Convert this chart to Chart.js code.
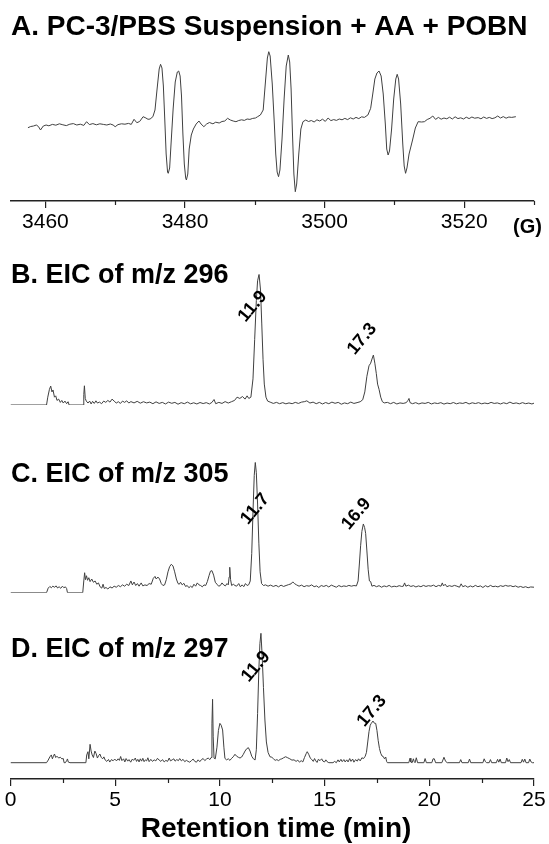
<!DOCTYPE html>
<html>
<head>
<meta charset="utf-8">
<script src="https://cdn.jsdelivr.net/npm/chart.js@4.4.0/dist/chart.umd.min.js"></script>
<style>
body { margin: 0; background: #fff; }
#wrap { position: relative; width: 549px; height: 844px; overflow: hidden; }
#wrap canvas { position: absolute; left: 0; }
</style>
</head>
<body>
<div id="wrap">
    <canvas id="epr-chart" width="549" height="250" style="top:0px"></canvas>
    <canvas id="eic-296-chart" width="549" height="180" style="top:240px"></canvas>
    <canvas id="eic-305-chart" width="549" height="190" style="top:420px"></canvas>
    <canvas id="eic-297-chart" width="549" height="244" style="top:600px"></canvas>
</div>
<script>
var FONT = '"Liberation Sans", Arial, sans-serif';

// EPR spectrum, field (G) and signal (a.u.)
var eprSpectrum = [
    [3457.5,-3.7],[3457.9,-2.5],[3458.3,-2.0],[3458.7,-1.0],[3459.0,-2.5],[3459.3,-6.0],[3459.7,-2.0],
    [3460.1,-1.0],[3460.5,-1.8],[3461.0,-0.4],[3461.5,-1.2],[3462.0,0.2],[3462.5,-0.8],[3463.0,-1.6],
    [3463.5,-0.2],[3464.0,0.4],[3464.5,-1.0],[3465.0,-0.2],[3465.5,-1.4],[3465.9,2.3],[3466.3,-0.6],
    [3466.8,0.4],[3467.3,-0.8],[3467.8,0.2],[3468.3,-0.4],[3468.8,-1.0],[3469.3,0.0],[3469.7,-1.0],
    [3470.0,-2.7],[3470.4,-0.6],[3470.9,0.2],[3471.4,-0.2],[3471.9,0.6],[3472.3,-0.4],[3472.7,4.7],
    [3473.1,1.3],[3473.5,2.5],[3474.0,7.3],[3474.4,6.0],[3474.7,4.7],[3475.0,5.0],[3475.4,7.3],
    [3475.7,14],[3476.0,35],[3476.3,55],[3476.5,59.7],[3476.7,56],[3476.9,38],[3477.1,5],[3477.3,-30],
    [3477.5,-48],[3477.6,-49.3],[3477.8,-44],[3478.0,-20],[3478.3,15],[3478.6,42],[3478.9,52],[3479.1,53],
    [3479.3,48],[3479.5,28],[3479.7,-10],[3479.9,-40],[3480.1,-54],[3480.2,-56],[3480.4,-50],[3480.6,-25],
    [3480.9,-11],[3481.2,-5],[3481.6,0],[3482.0,3],[3482.3,0],[3482.7,-2.7],[3483.1,0],[3483.5,1.5],
    [3484.0,0.2],[3484.4,1.8],[3484.9,1.0],[3485.3,2.5],[3485.7,3.0],[3486.1,5.7],[3486.5,4.0],
    [3486.9,3.0],[3487.3,2.3],[3487.7,3.5],[3488.1,4.2],[3488.5,3.6],[3488.9,5.0],[3489.3,4.6],
    [3489.7,5.6],[3490.1,6.0],[3490.4,7.3],[3490.8,9],[3491.2,14],[3491.5,40],[3491.8,66],[3492.0,72.3],
    [3492.2,68],[3492.5,40],[3492.8,0],[3493.0,-30],[3493.2,-48],[3493.4,-52.7],[3493.6,-46],[3493.9,-15],
    [3494.2,25],[3494.5,58],[3494.8,69],[3495.0,62],[3495.2,35],[3495.4,-10],[3495.6,-50],[3495.8,-67.7],
    [3496.0,-60],[3496.3,-30],[3496.6,-5],[3496.9,2.3],[3497.3,4.0],[3497.7,2.5],[3498.1,3.5],[3498.5,2.0],
    [3498.9,4.2],[3499.3,3.0],[3499.7,4.8],[3500.1,2.6],[3500.5,6.0],[3500.9,3.4],[3501.3,4.4],[3501.7,3.6],
    [3502.1,5.0],[3502.5,4.2],[3502.9,5.6],[3503.3,4.4],[3503.7,6.2],[3504.1,5.0],[3504.5,6.6],[3504.9,5.4],
    [3505.3,7.2],[3505.7,6.6],[3506.2,9.0],[3506.6,15.7],[3506.9,30],[3507.2,45],[3507.5,51],[3507.8,53],
    [3508.1,48],[3508.4,30],[3508.7,0],[3508.9,-25],[3509.1,-31],[3509.3,-27],[3509.6,-5],[3509.9,25],
    [3510.2,45],[3510.4,49.7],[3510.6,45],[3510.9,20],[3511.2,-20],[3511.4,-42],[3511.6,-49.3],[3511.8,-44],
    [3512.1,-30],[3512.6,-16],[3513.0,-4],[3513.4,2.3],[3513.9,2.0],[3514.3,2.3],[3514.7,4.5],[3515.1,5.7],
    [3515.5,8.0],[3515.9,4.6],[3516.3,6.6],[3516.7,4.8],[3517.1,6.0],[3517.5,5.2],[3517.9,6.8],[3518.3,5.0],
    [3518.7,7.2],[3519.1,5.4],[3519.5,6.2],[3519.9,5.0],[3520.3,6.8],[3520.7,5.4],[3521.1,7.0],[3521.5,5.8],
    [3522.0,6.4],[3522.4,5.2],[3522.8,7.0],[3523.2,5.6],[3523.6,6.6],[3524.0,5.4],[3524.4,6.2],[3524.8,8.0],
    [3525.2,6.0],[3525.6,7.4],[3526.0,5.8],[3526.4,7.0],[3526.8,6.6],[3527.4,7.3]
];
var eprMajorTicks = [3460, 3480, 3500, 3520];
var eprMinorTicks = [3470, 3490, 3510, 3530];

// EIC traces, retention time (min) and relative intensity (%)
var eic296 = [
    [0,0],[1.72,0],[1.78,6],[1.86,12],[1.92,14.5],[1.98,10],[2.03,11.5],[2.10,6],[2.16,7],[2.22,3.5],
    [2.30,4.5],[2.38,2],[2.45,3.5],[2.52,1.5],[2.60,3],[2.68,1],[2.75,2.5],[2.80,0],[3.47,0],[3.50,8],
    [3.53,14.7],[3.57,5],[3.62,3],[3.70,1.5],[3.78,3],[3.85,0.8],[3.92,2.8],[4.00,1.2],[4.08,3.2],[4.15,1.5],
    [4.25,2.2],[4.35,1.0],[4.45,3.0],[4.55,2.0],[4.65,3.5],[4.75,2.2],[4.85,4.5],[4.95,3.0],[5.05,1.5],
    [5.15,2.5],[5.25,1.2],[5.35,3.0],[5.45,2.0],[5.55,3.2],[5.65,1.5],[5.75,2.6],[5.90,1.6],[6.05,2.8],
    [6.20,1.4],[6.35,2.5],[6.50,1.6],[6.65,2.2],[6.80,1.0],[6.95,2.4],[7.10,1.2],[7.25,2.0],[7.40,0.8],
    [7.55,2.2],[7.70,1.3],[7.85,2.0],[8.00,0.6],[8.15,1.8],[8.30,1.0],[8.45,2.2],[8.60,0.9],[8.75,1.7],
    [8.90,0.8],[9.05,1.9],[9.20,1.1],[9.35,1.8],[9.50,0.8],[9.62,2.0],[9.72,4.2],[9.80,1.0],[9.95,2.0],
    [10.10,1.2],[10.25,2.6],[10.40,1.5],[10.55,2.5],[10.70,3.5],[10.82,6.0],[10.95,5.0],[11.08,6.5],
    [11.20,4.5],[11.30,7.0],[11.38,5.0],[11.48,6.0],[11.58,20],[11.66,50],[11.74,80],[11.80,95],[11.87,100],
    [11.94,88],[12.00,62],[12.06,35],[12.12,16],[12.20,6],[12.28,3],[12.40,2.2],[12.55,1.2],[12.70,2.0],
    [12.85,1.0],[13.00,1.8],[13.15,0.9],[13.30,1.6],[13.45,1.0],[13.60,2.0],[13.75,1.2],[13.90,2.2],
    [14.05,2.6],[14.15,3.2],[14.30,1.5],[14.45,2.2],[14.60,1.0],[14.75,2.0],[14.90,0.8],[15.05,1.9],
    [15.20,1.0],[15.35,2.2],[15.50,1.3],[15.65,2.0],[15.80,0.6],[15.95,1.6],[16.10,1.0],[16.25,2.2],
    [16.40,1.2],[16.55,1.8],[16.70,2.5],[16.82,4.0],[16.92,10],[17.02,22],[17.12,30],[17.20,32],[17.28,36],
    [17.33,38.2],[17.40,32],[17.47,24],[17.53,16],[17.60,12],[17.68,6],[17.76,2.5],[17.85,1.6],[18.00,2.0],
    [18.15,1.0],[18.30,2.0],[18.45,0.8],[18.60,1.6],[18.75,1.2],[18.90,1.8],[18.98,3.5],[19.03,5.0],
    [19.08,1.8],[19.20,1.0],[19.35,1.8],[19.50,0.8],[19.65,1.6],[19.80,1.2],[19.95,2.0],[20.10,0.8],
    [20.25,1.6],[20.40,1.1],[20.55,1.8],[20.70,0.7],[20.85,1.5],[21.00,1.0],[21.15,1.9],[21.30,0.9],
    [21.45,1.6],[21.60,1.2],[21.75,2.0],[21.90,0.8],[22.05,1.7],[22.20,1.1],[22.35,1.8],[22.50,0.9],
    [22.65,1.5],[22.80,1.0],[22.95,2.0],[23.10,1.2],[23.25,1.6],[23.40,0.8],[23.55,1.7],[23.70,1.0],
    [23.85,2.2],[24.00,1.1],[24.15,1.6],[24.30,0.9],[24.45,1.8],[24.60,1.0],[24.75,1.5],[24.90,0.8],[25.00,1.4]
];
var eic305 = [
    [0,0],[1.72,0],[1.80,3.5],[1.88,4.8],[1.95,3.8],[2.02,5.0],[2.10,4.2],[2.18,5.2],[2.25,3.6],[2.32,4.6],
    [2.40,3.4],[2.48,5.0],[2.55,3.8],[2.62,4.5],[2.68,3.2],[2.72,0],[3.45,0],[3.50,9],[3.54,15.3],[3.58,10],
    [3.63,13],[3.68,9.5],[3.74,11.5],[3.80,8.5],[3.88,10.5],[3.96,8.0],[4.04,9.0],[4.12,6.5],[4.20,7.5],
    [4.28,4.5],[4.36,3.5],[4.42,6.5],[4.48,3.2],[4.56,4.0],[4.65,2.8],[4.75,4.5],[4.85,3.6],[4.95,5.0],
    [5.05,4.2],[5.15,5.5],[5.25,4.6],[5.35,6.0],[5.45,5.0],[5.55,6.5],[5.65,5.5],[5.75,9.0],[5.82,6.0],
    [5.90,8.2],[5.98,5.5],[6.06,7.0],[6.14,5.0],[6.24,7.5],[6.32,5.2],[6.42,6.0],[6.52,5.5],[6.62,7.0],
    [6.72,6.5],[6.82,11.0],[6.90,12.5],[6.96,10.5],[7.04,12.0],[7.12,10.5],[7.20,7.0],[7.28,5.5],[7.36,6.0],
    [7.44,10.0],[7.52,16.0],[7.60,20.0],[7.68,21.8],[7.76,20.5],[7.84,16.0],[7.92,10.5],[8.00,7.0],
    [8.06,6.5],[8.12,8.0],[8.20,6.0],[8.28,7.2],[8.36,4.8],[8.44,5.5],[8.52,3.8],[8.60,5.0],[8.68,4.0],
    [8.76,6.5],[8.84,5.0],[8.92,7.5],[9.00,6.0],[9.08,5.5],[9.16,4.5],[9.24,6.0],[9.32,5.5],[9.40,8.5],
    [9.48,13.0],[9.55,16.5],[9.62,16.9],[9.70,13.5],[9.78,8.0],[9.86,6.5],[9.94,5.0],[10.02,5.5],[10.10,7.5],
    [10.18,6.0],[10.26,5.2],[10.34,7.0],[10.40,6.0],[10.44,12],[10.47,19.5],[10.51,10],[10.56,5.5],
    [10.64,6.5],[10.72,5.5],[10.80,5.0],[10.90,7.0],[10.98,4.5],[11.06,6.0],[11.14,4.6],[11.22,7.0],
    [11.30,5.5],[11.38,6.2],[11.45,9.0],[11.52,30],[11.58,62],[11.64,90],[11.69,100],[11.74,92],[11.80,68],
    [11.86,38],[11.92,16],[11.99,7.0],[12.08,5.5],[12.18,6.0],[12.30,5.0],[12.42,5.8],[12.55,4.8],
    [12.68,5.6],[12.80,4.5],[12.92,5.8],[13.04,4.8],[13.16,5.5],[13.28,6.2],[13.40,6.8],[13.48,8.3],
    [13.56,7.0],[13.66,6.0],[13.78,5.0],[13.90,5.8],[14.02,4.6],[14.14,5.4],[14.26,5.0],[14.38,6.0],
    [14.50,4.6],[14.62,5.2],[14.72,4.0],[14.84,5.5],[14.96,4.8],[15.08,5.6],[15.20,4.4],[15.32,5.8],
    [15.44,5.0],[15.56,4.2],[15.68,5.5],[15.80,4.6],[15.92,5.2],[16.04,4.8],[16.16,5.6],[16.28,5.0],
    [16.40,5.5],[16.52,5.2],[16.60,9.0],[16.66,22],[16.72,36],[16.78,47],[16.85,52.7],[16.91,50],
    [16.96,45.5],[17.02,32],[17.08,18],[17.14,9.0],[17.20,8.5],[17.26,5.0],[17.36,5.6],[17.48,4.6],
    [17.60,5.4],[17.72,4.2],[17.84,5.2],[17.96,4.6],[18.08,5.6],[18.20,4.4],[18.32,5.0],[18.44,4.6],
    [18.56,5.4],[18.68,4.8],[18.76,5.0],[18.82,7.5],[18.88,5.0],[19.00,5.8],[19.12,4.8],[19.24,5.4],
    [19.36,4.4],[19.48,5.2],[19.60,4.6],[19.72,5.6],[19.84,4.8],[19.96,5.4],[20.08,5.0],[20.20,5.8],
    [20.32,4.6],[20.44,5.6],[20.56,5.0],[20.62,7.5],[20.68,5.2],[20.76,6.5],[20.84,4.6],[20.96,5.4],
    [21.08,4.8],[21.20,5.6],[21.32,5.0],[21.44,4.2],[21.52,6.8],[21.60,4.6],[21.72,5.4],[21.84,4.2],
    [21.96,5.2],[22.08,4.4],[22.20,5.6],[22.32,4.6],[22.44,5.2],[22.56,4.0],[22.68,5.4],[22.80,4.4],
    [22.92,5.6],[23.04,4.6],[23.16,5.0],[23.28,4.4],[23.40,5.4],[23.52,4.8],[23.64,5.6],[23.76,5.0],
    [23.88,5.4],[24.00,4.6],[24.12,5.2],[24.24,4.2],[24.36,4.8],[24.48,4.0],[24.60,4.6],[24.72,3.8],
    [24.84,4.4],[25.00,4.2]
];
var eic297 = [
    [0,0],[1.72,0],[1.80,2.0],[1.88,4.5],[1.95,6.0],[2.00,3.0],[2.05,5.0],[2.10,6.7],[2.16,4.0],[2.22,5.0],
    [2.30,3.6],[2.38,4.2],[2.45,3.0],[2.52,3.2],[2.56,0],[2.62,0],[2.68,1.5],[2.72,2.9],[2.76,0.5],[2.84,0],
    [3.60,0],[3.64,6.0],[3.70,8.5],[3.74,3.0],[3.80,14.2],[3.85,9.0],[3.90,6.0],[3.96,4.0],[4.03,9.0],
    [4.09,7.0],[4.15,3.6],[4.21,5.5],[4.27,6.7],[4.33,4.2],[4.40,3.0],[4.46,4.5],[4.52,2.1],[4.60,1.0],
    [4.68,2.5],[4.74,0.5],[4.82,2.4],[4.90,1.5],[4.98,2.8],[5.06,1.4],[5.14,3.0],[5.20,1.8],[5.26,4.8],
    [5.32,1.6],[5.40,3.0],[5.46,0.6],[5.52,3.2],[5.60,1.2],[5.66,2.4],[5.74,0.4],[5.82,2.8],[5.88,1.8],
    [5.96,3.6],[6.02,1.0],[6.08,2.6],[6.14,0.6],[6.20,3.0],[6.26,1.2],[6.32,3.4],[6.38,0.8],[6.44,2.2],
    [6.50,1.4],[6.56,3.8],[6.62,0.8],[6.70,2.6],[6.78,1.0],[6.86,2.2],[6.94,1.4],[7.02,3.4],[7.10,2.0],
    [7.18,1.0],[7.26,2.4],[7.34,0.6],[7.42,1.8],[7.50,1.0],[7.58,3.6],[7.64,1.4],[7.72,2.2],[7.80,3.0],
    [7.86,1.2],[7.94,2.4],[8.02,1.6],[8.08,3.2],[8.16,1.4],[8.24,2.6],[8.32,0.8],[8.40,1.8],[8.48,1.0],
    [8.56,0.4],[8.64,1.6],[8.72,2.8],[8.80,1.0],[8.88,0.4],[8.96,2.2],[9.04,0.8],[9.12,2.4],[9.20,3.2],
    [9.28,1.6],[9.36,2.8],[9.44,3.6],[9.52,2.4],[9.58,4.0],[9.62,30],[9.65,49],[9.68,20],[9.72,3.5],
    [9.78,3.0],[9.86,12],[9.93,25],[10.00,30.4],[10.06,29],[10.13,25.3],[10.19,12],[10.24,3.3],[10.32,2.2],
    [10.40,3.0],[10.48,1.8],[10.56,3.4],[10.64,4.6],[10.72,6.5],[10.80,5.0],[10.88,4.2],[10.96,3.6],
    [11.04,4.4],[11.12,6.5],[11.20,9.0],[11.28,10.8],[11.36,11.6],[11.44,9.0],[11.52,5.0],[11.60,3.0],
    [11.68,2.1],[11.74,10],[11.80,38],[11.86,72],[11.91,92],[11.96,100],[12.02,82],[12.08,58],[12.15,33],
    [12.22,16],[12.30,8.0],[12.39,4.6],[12.48,4.2],[12.56,3.0],[12.64,1.8],[12.72,2.4],[12.80,1.6],
    [12.88,2.6],[12.96,3.0],[13.04,3.8],[13.14,4.6],[13.24,3.8],[13.34,3.0],[13.44,2.0],[13.54,2.2],
    [13.64,1.0],[13.72,2.0],[13.80,0.4],[13.88,1.6],[13.96,0.6],[14.04,4.0],[14.12,7.0],[14.17,8.5],
    [14.24,6.5],[14.32,3.5],[14.40,2.2],[14.46,1.0],[14.52,3.2],[14.58,1.4],[14.64,0.2],[14.70,2.6],
    [14.78,1.6],[14.86,3.0],[14.92,1.2],[15.00,0.6],[15.06,2.2],[15.12,0.8],[15.20,0],[15.40,0],[15.48,1.0],
    [15.56,0],[15.64,2.2],[15.70,0.6],[15.78,2.6],[15.84,0.8],[15.92,2.4],[15.98,0.6],[16.06,2.2],[16.12,0.6],
    [16.20,3.2],[16.26,1.0],[16.34,2.8],[16.40,0.4],[16.48,2.4],[16.56,1.2],[16.62,3.0],[16.70,1.4],
    [16.78,3.8],[16.86,3.2],[16.94,5.0],[17.00,8.0],[17.06,16],[17.12,24],[17.18,29],[17.23,30.4],
    [17.31,32.2],[17.38,30.5],[17.44,30.4],[17.50,25],[17.56,17],[17.62,11],[17.68,7.3],[17.74,5.2],
    [17.80,4.8],[17.86,3.0],[17.92,4.4],[17.96,1.0],[18.00,0],[19.02,0],[19.08,3.5],[19.12,0.5],[19.18,0],
    [19.24,3.0],[19.28,0.8],[19.32,0],[19.38,3.8],[19.44,0],[19.74,0],[19.80,3.2],[19.86,0],[20.12,0],
    [20.18,3.0],[20.24,3.0],[20.30,0],[20.60,0],[20.70,4.2],[20.78,1.0],[20.86,0],[21.44,0],[21.50,2.4],
    [21.56,0],[21.86,0],[21.92,2.8],[21.98,0],[22.56,0],[22.62,3.0],[22.68,0.8],[22.74,0],[22.86,0],
    [22.92,2.4],[22.98,0],[23.20,0],[23.26,2.6],[23.32,0.4],[23.38,2.8],[23.44,0],[23.64,0],[23.70,3.6],
    [23.76,0.8],[23.82,2.4],[23.88,0],[24.38,0],[24.44,2.6],[24.50,0.4],[24.56,2.8],[24.62,0],[24.74,0],
    [24.80,2.8],[24.86,0.6],[24.92,0],[25.00,0]
];
var timeMajorTicks = [0, 5, 10, 15, 20, 25];
var timeMinorTicks = [2.5, 7.5, 12.5, 17.5, 22.5];

// peak labels: text, time, intensity of the label centre
var peaks296 = [['11.9', 11.56, 75.4], ['17.3', 16.79, 50.5]];
var peaks305 = [['11.7', 11.68, 64.2], ['16.9', 16.52, 60.4]];
var peaks297 = [['11.9', 11.72, 74.3], ['17.3', 17.26, 40.0]];

var panel_text_plugin = {
    id: 'panelText',
    afterDraw: function (chart, args, opts) {
        var ctx = chart.ctx;
        var xs = chart.scales.x;
        var ys = chart.scales.y;
        ctx.save();
        ctx.fillStyle = '#000';
        (opts.texts || []).forEach(function (t) {
            ctx.font = t.font;
            ctx.textAlign = t.align || 'left';
            ctx.textBaseline = 'alphabetic';
            ctx.fillText(t.text, t.x, t.y);
        });
        (opts.peaks || []).forEach(function (p) {
            ctx.save();
            ctx.translate(xs.getPixelForValue(p[1]), ys.getPixelForValue(p[2]));
            ctx.rotate(-50 * Math.PI / 180);
            ctx.font = 'bold 18px ' + FONT;
            ctx.textAlign = 'center';
            ctx.textBaseline = 'middle';
            ctx.fillText(p[0], 0, 0);
            ctx.restore();
        });
        if (opts.minorTicks) {
            var bottom = chart.chartArea.bottom;
            ctx.strokeStyle = '#222';
            ctx.lineWidth = 1.2;
            opts.minorTicks.forEach(function (v) {
                var px = Math.round(xs.getPixelForValue(v)) + 0.5;
                ctx.beginPath();
                ctx.moveTo(px, bottom);
                ctx.lineTo(px, bottom + 4);
                ctx.stroke();
            });
        }
        ctx.restore();
    }
};

function to_points(pairs) {
    return pairs.map(function (p) { return {x: p[0], y: p[1]}; });
}

function make_chart(id, pairs, cfg) {
    var ctx = document.getElementById(id).getContext('2d');
    var xScale = {
        type: 'linear',
        min: cfg.xMin,
        max: cfg.xMax,
        display: cfg.showAxis
    };
    if (cfg.showAxis) {
        xScale.afterBuildTicks = function (scale) {
            scale.ticks = cfg.majorTicks.map(function (v) { return {value: v}; });
        };
        xScale.afterFit = function (scale) {
            scale.height = cfg.axisHeight;
        };
        xScale.ticks = {
            callback: function (v) { return String(v); },
            font: {family: FONT, size: 21},
            color: '#000',
            padding: 2,
            maxRotation: 0,
            autoSkip: false
        };
        xScale.grid = {
            drawOnChartArea: false,
            drawTicks: true,
            tickLength: 7,
            color: '#222',
            lineWidth: 1.2
        };
        xScale.border = {display: true, color: '#222', width: 1.5};
    }
    return new Chart(ctx, {
        type: 'line',
        data: {
            datasets: [{
                data: to_points(pairs),
                borderColor: '#404040',
                borderWidth: 1,
                pointRadius: 0,
                tension: 0,
                fill: false
            }]
        },
        options: {
            responsive: false,
            animation: false,
            layout: {
                padding: {left: 10.5, right: 15, top: cfg.padTop, bottom: cfg.padBottom}
            },
            scales: {
                x: xScale,
                y: {type: 'linear', min: cfg.yMin, max: cfg.yMax, display: false}
            },
            plugins: {
                legend: {display: false},
                tooltip: {enabled: false},
                panelText: {
                    texts: cfg.texts,
                    peaks: cfg.peaks,
                    minorTicks: cfg.minorTicks
                }
            }
        },
        plugins: [panel_text_plugin]
    });
}

var epr_chart = make_chart('epr-chart', eprSpectrum, {
    xMin: 3455, xMax: 3530, yMin: -77, yMax: 84,
    padTop: 40, padBottom: 0, showAxis: true, axisHeight: 49,
    majorTicks: eprMajorTicks, minorTicks: eprMinorTicks,
    texts: [
        {text: 'A. PC-3/PBS Suspension + AA + POBN', x: 11, y: 35, font: 'bold 28px ' + FONT},
        {text: '(G)', x: 513, y: 233, font: 'bold 20px ' + FONT}
    ]
});

var eic_296_chart = make_chart('eic-296-chart', eic296, {
    xMin: 0, xMax: 25, yMin: 0, yMax: 100,
    padTop: 34.3, padBottom: 15, showAxis: false,
    peaks: peaks296,
    texts: [{text: 'B. EIC of m/z 296', x: 11, y: 43.3, font: 'bold 27px ' + FONT}]
});

var eic_305_chart = make_chart('eic-305-chart', eic305, {
    xMin: 0, xMax: 25, yMin: 0, yMax: 100,
    padTop: 42.3, padBottom: 17.3, showAxis: false,
    peaks: peaks305,
    texts: [{text: 'C. EIC of m/z 305', x: 11, y: 61.7, font: 'bold 27px ' + FONT}]
});

var eic_297_chart = make_chart('eic-297-chart', eic297, {
    xMin: 0, xMax: 25, yMin: -12.6, yMax: 110.3,
    padTop: 20, padBottom: 0, showAxis: true, axisHeight: 65,
    majorTicks: timeMajorTicks, minorTicks: timeMinorTicks,
    peaks: peaks297,
    texts: [
        {text: 'D. EIC of m/z 297', x: 11, y: 56.7, font: 'bold 27px ' + FONT},
        {text: 'Retention time (min)', x: 276, y: 237, font: 'bold 28px ' + FONT, align: 'center'}
    ]
});
</script>
</body>
</html>
